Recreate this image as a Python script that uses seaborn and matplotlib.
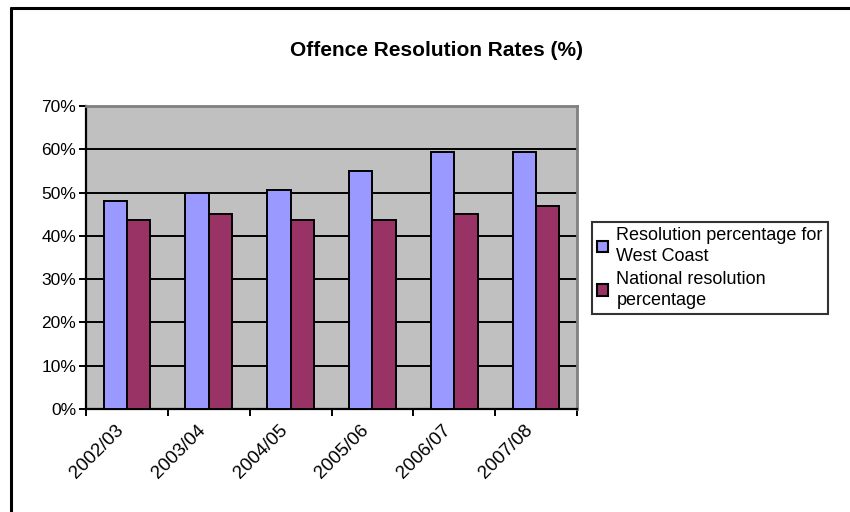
import matplotlib
matplotlib.use("Agg")
import matplotlib.pyplot as plt
import seaborn as sns
import pandas as pd
from matplotlib.ticker import FuncFormatter, FixedLocator
from matplotlib.patches import Patch
from matplotlib.lines import Line2D
from matplotlib.transforms import ScaledTranslation

# Offence resolution rates by financial year
years = ["2002/03", "2003/04", "2004/05", "2005/06", "2006/07", "2007/08"]
west_coast = [48.1, 50.0, 50.7, 55.0, 59.4, 59.4]
national = [43.6, 45.0, 43.6, 43.6, 45.0, 46.9]
series_names = ["Resolution percentage for\nWest Coast", "National resolution\npercentage"]
colors = ["#9999FF", "#993366"]

df = pd.DataFrame({
    "Year": years * 2,
    "Rate": west_coast + national,
    "Series": [series_names[0]] * len(years) + [series_names[1]] * len(years),
})

sns.set_theme(style="white")
plt.rcParams["font.family"] = ["Liberation Sans", "DejaVu Sans"]
plt.rcParams["text.color"] = "black"
plt.rcParams["xtick.color"] = "black"
plt.rcParams["ytick.color"] = "black"

fig = plt.figure(figsize=(8.5, 5.12), dpi=100)
ax = fig.add_axes([86 / 850, 1 - 409 / 512, (577 - 86) / 850, (409 - 106) / 512])
ax.set_facecolor("#C0C0C0")

sns.barplot(data=df, x="Year", y="Rate", hue="Series", palette=colors,
            saturation=1, width=0.57, edgecolor="black", linewidth=1.4, ax=ax,
            legend=False, zorder=3)

ax.set_ylim(0, 70)
ax.set_xlim(-0.5, len(years) - 0.5)
ax.set_yticks(range(0, 71, 10))
ax.yaxis.set_major_formatter(FuncFormatter(lambda v, p: f"{int(v)}%"))
for yv in range(10, 70, 10):
    ax.axhline(yv, color="black", lw=1.4, zorder=1)
ax.grid(False)

ax.set_xlabel("")
ax.set_ylabel("")

# category labels at centres, tick marks between categories
ax.set_xticks(range(len(years)))
ax.set_xticklabels(years, rotation=45, ha="right", rotation_mode="anchor", fontsize=13.5)
ax.tick_params(axis="x", which="major", length=0, pad=9)
ax.xaxis.set_minor_locator(FixedLocator([i - 0.5 for i in range(len(years) + 1)]))
ax.tick_params(axis="x", which="minor", length=5, width=1.4, color="black", direction="out", bottom=True)
ax.tick_params(axis="y", length=5, width=1.4, color="black", direction="out", left=True, labelsize=12.5, pad=2)
shift = ScaledTranslation(-12 / 100, 0, fig.dpi_scale_trans)
for lbl in ax.get_xticklabels():
    lbl.set_transform(lbl.get_transform() + shift)

for s in ["left", "bottom"]:
    ax.spines[s].set_color("black")
    ax.spines[s].set_linewidth(1.6)
for s in ["top", "right"]:
    ax.spines[s].set_color("#808080")
    ax.spines[s].set_linewidth(2)

fig.text(0.514, 1 - 50 / 512, "Offence Resolution Rates (%)", ha="center", va="center",
         fontsize=15, fontweight="bold", color="black")

handles = [Patch(facecolor=c, edgecolor="black", linewidth=1.5) for c in colors]
leg = fig.legend(handles, series_names, loc="upper left",
                 bbox_to_anchor=(592 / 850, 1 - 222 / 512), frameon=True,
                 fontsize=13, handlelength=0.6, handleheight=0.6, handletextpad=0.45,
                 borderpad=0.3, labelspacing=0.3, fancybox=False, borderaxespad=0)
leg.get_frame().set_edgecolor("black")
leg.get_frame().set_linewidth(1.5)
for t in leg.get_texts():
    t.set_color("black")
    t.set_linespacing(1.3)

# chart border (top and left edges visible)
fig.add_artist(Line2D([11 / 850, 11 / 850], [0, 1 - 8 / 512], transform=fig.transFigure, color="black", lw=2.2))
fig.add_artist(Line2D([11 / 850, 1], [1 - 8 / 512, 1 - 8 / 512], transform=fig.transFigure, color="black", lw=2.2))

fig.savefig("out.png", dpi=100)
